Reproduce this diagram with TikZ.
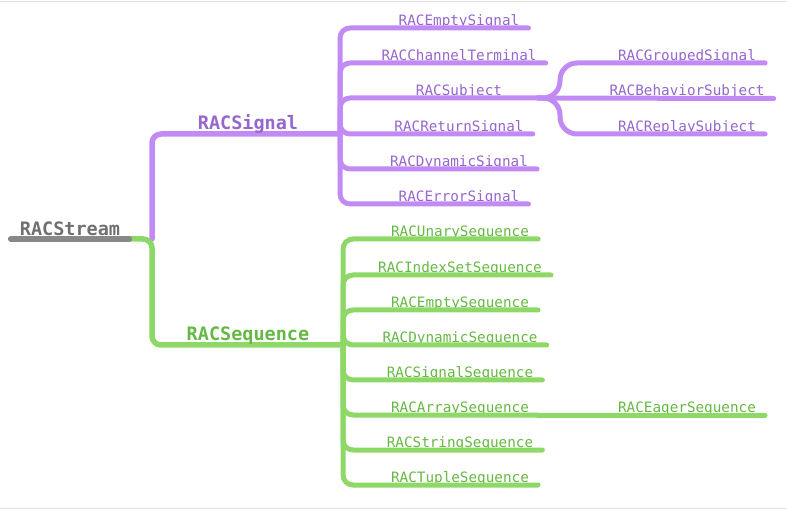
\documentclass[tikz,border=0pt]{standalone}
\usepackage{fontspec}
\setmonofont{DejaVu Sans Mono}
\usetikzlibrary{calc}
\definecolor{purline}{HTML}{C28AF5}
\definecolor{purtext}{HTML}{9566CC}
\definecolor{grnline}{HTML}{8DD866}
\definecolor{grntext}{HTML}{66B844}
\definecolor{greyline}{HTML}{888888}
\definecolor{greytext}{HTML}{707070}
\definecolor{frame}{HTML}{E2E2E2}
\begin{document}
\begin{tikzpicture}[x=1pt,y=-1pt,
  title/.style={anchor=base,inner xsep=9pt,inner ysep=0pt,font=\ttfamily\bfseries\fontsize{18.5}{20}\selectfont},
  leaf/.style={anchor=base,inner xsep=9pt,inner ysep=0pt,font=\ttfamily\fontsize{14.3}{16}\selectfont},
  pleaf/.style={leaf,text=purtext},
  gleaf/.style={leaf,text=grntext},
  mainline/.style={line width=5.5pt,line cap=round,line join=round},
  childline/.style={line width=5pt,line cap=round,line join=round},
  pl/.style={childline,draw=purline,rounded corners=10pt},
  gl/.style={childline,draw=grnline,rounded corners=10pt}]
\useasboundingbox (0,0) rectangle (787,510);
\draw[frame,line width=1.5pt] (0,1.5) -- (787,1.5);
\draw[frame,line width=1.5pt] (0,508.5) -- (787,508.5);

% root
\node[title,text=greytext] (root) at (70,236) {RACStream};
\coordinate (fork) at (152,239);
\coordinate (sigJ) at (340,134);
\coordinate (seqJ) at (343,345);

% main branches
\draw[mainline,draw=purline,rounded corners=9pt] (fork) |- (sigJ);
\draw[mainline,draw=grnline,rounded corners=9pt] ([yshift=-3pt]root.base east) -- (fork) |- (seqJ);
\draw[mainline,draw=greyline] ([yshift=-3pt]root.base west) -- ([yshift=-3pt]root.base east);
\node[title,text=purtext] (sig) at (248,130) {RACSignal};
\node[title,text=grntext] (seq) at (248,340.5) {RACSequence};

% RACSignal children
\node[pleaf] (s1) at (459,25.5) {RACEmptySignal};
\node[pleaf] (s2) at (459,60.5) {RACChannelTerminal};
\node[pleaf] (s3) at (459,95.5) {RACSubject};
\node[pleaf] (s4) at (459,131.5) {RACReturnSignal};
\node[pleaf] (s5) at (459,166.5) {RACDynamicSignal};
\node[pleaf] (s6) at (459,201.5) {RACErrorSignal};
\coordinate (subJ) at (538,98);
\coordinate (subT) at (560,98);
\foreach \n in {s1,s2,s4,s5,s6}
  \draw[pl] (sigJ) |- ([yshift=-2.5pt]\n.base east);
\draw[pl] (sigJ) |- (subJ);

% RACSubject children
\node[pleaf] (u1) at (687,60.5) {RACGroupedSignal};
\node[pleaf] (u2) at (687,96) {RACBehaviorSubject};
\node[pleaf] (u3) at (687,131.5) {RACReplaySubject};
\draw[childline,draw=purline,rounded corners=17pt] (subJ) -- (subT) |- ([yshift=-2.5pt]u1.base east);
\draw[childline,draw=purline,rounded corners=17pt] (subJ) -- (subT) |- ([yshift=-2.5pt]u3.base east);
\draw[childline,draw=purline] (subJ) -- ([yshift=-2.5pt]u2.base east);

% RACSequence children
\node[gleaf] (q1) at (460,236.5) {RACUnarySequence};
\node[gleaf] (q2) at (460,272.5) {RACIndexSetSequence};
\node[gleaf] (q3) at (460,307.5) {RACEmptySequence};
\node[gleaf] (q4) at (460,342.5) {RACDynamicSequence};
\node[gleaf] (q5) at (460,377.5) {RACSignalSequence};
\node[gleaf] (q6) at (460,412.5) {RACArraySequence};
\node[gleaf] (q7) at (460,447.5) {RACStringSequence};
\node[gleaf] (q8) at (460,482.5) {RACTupleSequence};
\node[gleaf] (e1) at (687,412.5) {RACEagerSequence};
\foreach \n in {q1,q2,q3,q4,q5,q7,q8}
  \draw[gl] (seqJ) |- ([yshift=-2.5pt]\n.base east);
\draw[gl] (seqJ) |- ([yshift=-2.5pt]q6.base east);
\draw[childline,draw=grnline] ([yshift=-2.5pt]q6.base east) -- ([yshift=-2.5pt]e1.base east);
\end{tikzpicture}
\end{document}
